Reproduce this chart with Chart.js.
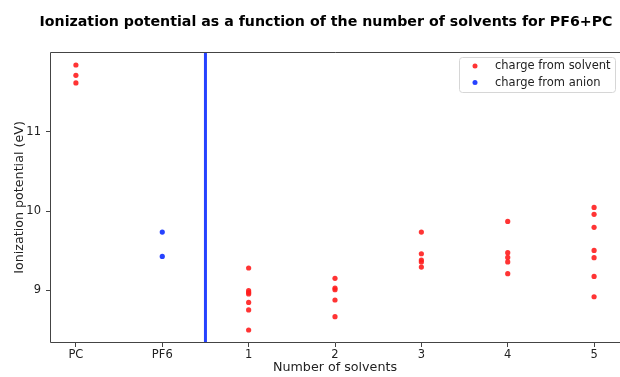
<!DOCTYPE html>
<html>
<head>
<meta charset="utf-8">
<script src="https://cdn.jsdelivr.net/npm/chart.js@4"></script>
<style>
  html, body { margin: 0; padding: 0; background: #fff; }
  #wrap { width: 620px; height: 377px; }
</style>
</head>
<body>
<div id="wrap"><canvas id="chart" width="620" height="377"></canvas></div>
<script>
// x categories (position on the axis = index)
const categories = ['PC', 'PF6', '1', '2', '3', '4', '5'];

// ionization potentials (eV)
const solventPC = [11.846, 11.715, 11.619];
const anionPF6 = [9.737, 9.429];
const solvent1 = [9.283, 8.996, 8.975, 8.955, 8.848, 8.753, 8.50];
const solvent2 = [9.152, 9.03, 9.009, 8.879, 8.668];
const solvent3 = [9.737, 9.463, 9.384, 9.359, 9.295];
const solvent4 = [9.871, 9.476, 9.417, 9.359, 9.211];
const solvent5 = [10.048, 9.96, 9.796, 9.505, 9.413, 9.177, 8.92];

const yTicks = [9, 10, 11];
const dividerX = 1.5;
const yMin = 8.336, yMax = 12.01;

const red = 'rgba(255, 30, 30, 0.9)';
const blue = 'rgba(20, 50, 255, 0.92)';

// build point lists from the arrays
const solventSets = [[0, solventPC], [2, solvent1], [3, solvent2], [4, solvent3], [5, solvent4], [6, solvent5]];
const solventPoints = [];
solventSets.forEach(([xi, vals]) => vals.forEach(v => solventPoints.push({ x: xi, y: v })));
const anionPoints = anionPF6.map(v => ({ x: 1, y: v }));

const font = 'DejaVu Sans';

// spines (the right one falls off the canvas), title and legend box
const decor = {
  id: 'decor',
  afterDraw(chart) {
    const { ctx, chartArea: a } = chart;
    ctx.save();
    ctx.strokeStyle = '#444';
    ctx.lineWidth = 1;
    ctx.beginPath();
    ctx.moveTo(a.right, a.top + 0.5);
    ctx.lineTo(a.left + 0.5, a.top + 0.5);
    ctx.lineTo(a.left + 0.5, a.bottom - 0.5);
    ctx.lineTo(a.right, a.bottom - 0.5);
    ctx.stroke();

    ctx.fillStyle = '#000';
    ctx.font = 'bold 14.2px "' + font + '"';
    ctx.textAlign = 'center';
    ctx.textBaseline = 'alphabetic';
    ctx.fillText('Ionization potential as a function of the number of solvents for PF6+PC', 326, 26);

    // legend
    const lx = 459.5, ly = 57.5, lw = 156, lh = 35;
    ctx.fillStyle = 'rgba(255,255,255,0.8)';
    ctx.strokeStyle = '#d6d6d6';
    ctx.beginPath();
    ctx.roundRect(lx, ly, lw, lh, 3);
    ctx.fill();
    ctx.stroke();
    const items = [['charge from solvent', red], ['charge from anion', blue]];
    ctx.font = '11.5px "' + font + '"';
    ctx.textAlign = 'left';
    ctx.textBaseline = 'middle';
    items.forEach(([label, col], i) => {
      const cy = 66 + i * 16.5;
      ctx.fillStyle = col;
      ctx.beginPath();
      ctx.arc(475, cy, 2.5, 0, Math.PI * 2);
      ctx.fill();
      ctx.fillStyle = '#222';
      ctx.fillText(label, 495, cy + 0.5);
    });
    ctx.restore();
  }
};

new Chart(document.getElementById('chart'), {
  type: 'scatter',
  data: {
    datasets: [
      {
        label: 'divider',
        type: 'line',
        data: [{ x: dividerX, y: yMin }, { x: dividerX, y: yMax }],
        borderColor: blue,
        borderWidth: 3,
        pointRadius: 0,
        showLine: true,
        order: 3
      },
      {
        label: 'charge from solvent',
        data: solventPoints,
        backgroundColor: red,
        borderWidth: 0,
        pointRadius: 2.6,
        order: 1
      },
      {
        label: 'charge from anion',
        data: anionPoints,
        backgroundColor: blue,
        borderWidth: 0,
        pointRadius: 2.6,
        order: 2
      }
    ]
  },
  options: {
    responsive: false,
    animation: false,
    layout: { autoPadding: false, padding: { top: 52, right: 0, left: 0, bottom: 0 } },
    plugins: { legend: { display: false }, tooltip: { enabled: false } },
    scales: {
      x: {
        type: 'linear',
        min: -0.3,
        max: 6.3,
        afterBuildTicks: s => { s.ticks = categories.map((_, i) => ({ value: i })); },
        afterFit: s => { s.height = 34; s.paddingLeft = 0; s.paddingRight = 0; },
        ticks: {
          callback: v => categories[v],
          color: '#222',
          font: { family: font, size: 11.5 },
          padding: 1,
          maxRotation: 0,
          autoSkip: false
        },
        grid: { drawOnChartArea: false, drawTicks: true, tickLength: 4, color: '#444' },
        border: { display: false },
        title: {
          display: true,
          text: 'Number of solvents',
          color: '#222',
          font: { family: font, size: 12.7 },
          padding: { top: 0, bottom: 2 }
        }
      },
      y: {
        min: yMin,
        max: yMax,
        afterBuildTicks: s => { s.ticks = yTicks.map(v => ({ value: v })); },
        afterFit: s => { s.width = 50; s.paddingTop = 0; s.paddingBottom = 0; },
        ticks: {
          color: '#222',
          font: { family: font, size: 11.5 },
          padding: 5
        },
        grid: { drawOnChartArea: false, drawTicks: true, tickLength: 4, color: '#444' },
        border: { display: false },
        title: {
          display: true,
          text: 'Ionization potential (eV)',
          color: '#222',
          font: { family: font, size: 12.7 },
          padding: { top: 12.4, bottom: 0 }
        }
      }
    }
  },
  plugins: [decor]
});
</script>
</body>
</html>
